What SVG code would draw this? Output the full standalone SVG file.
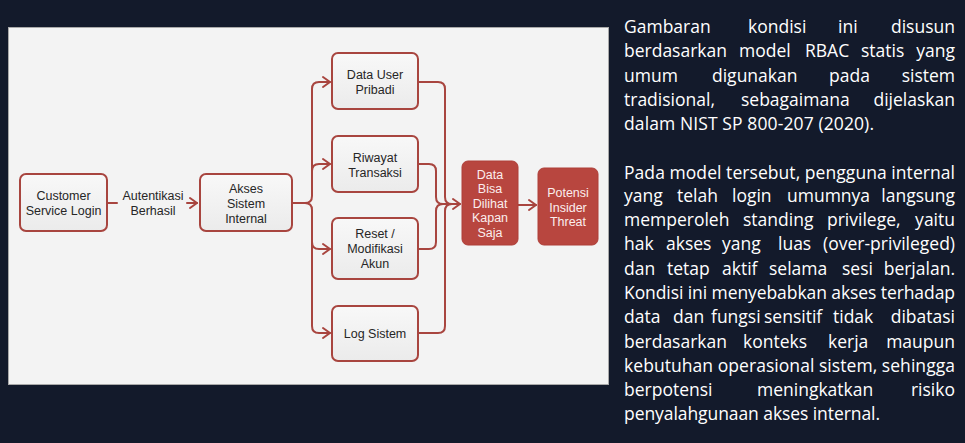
<svg xmlns="http://www.w3.org/2000/svg" width="965" height="443" viewBox="0 0 965 443">
<style>
.node{fill:url(#lg);stroke:#a8453f;stroke-width:2}
.red{fill:#b8463f;stroke:#ae3f39;stroke-width:1}
.nt{font-family:"Liberation Sans",Arial,sans-serif;font-size:12.5px;fill:#262626;text-anchor:middle}
.rt{font-family:"Liberation Sans",Arial,sans-serif;font-size:12.5px;fill:#fbeeee;text-anchor:middle}
.con{fill:none;stroke:#a8453f;stroke-width:2;stroke-linecap:round;stroke-linejoin:round}
.para{font-family:"Open Sans",Lato,sans-serif;font-size:17.5px;fill:#ffffff}
</style>
<defs>
<linearGradient id="lg" x1="0" y1="0" x2="0" y2="1">
<stop offset="0" stop-color="#f8f8f8"/>
<stop offset="1" stop-color="#ebebeb"/>
</linearGradient>
<marker id="ah" markerUnits="userSpaceOnUse" markerWidth="14" markerHeight="14" viewBox="-9 -7 11 14" refX="0" refY="0" orient="auto">
<path d="M-7,-5 L0,0 L-7,5" fill="none" stroke="#a8453f" stroke-width="2" stroke-linecap="round" stroke-linejoin="round"/>
</marker>
</defs>
<rect width="965" height="443" fill="#131a2b"/>
<rect x="8.5" y="27.5" width="600" height="357" fill="#f3f3f3" stroke="#a9a9a9" stroke-width="1"/>

<g id="connectors">
<path class="con" d="M107,203 H117"/>
<path class="con" d="M187,203 H197" marker-end="url(#ah)"/>
<path class="con" d="M292,203 H305 Q312,203 312,196 V89 Q312,82 319,82 H330" marker-end="url(#ah)"/>
<path class="con" d="M305,203 Q312,203 312,210 V326 Q312,333 319,333 H330" marker-end="url(#ah)"/>
<path class="con" d="M312,171 Q312,164 319,164 H330" marker-end="url(#ah)"/>
<path class="con" d="M312,242 Q312,249 319,249 H330" marker-end="url(#ah)"/>
<path class="con" d="M418,82 H438 Q445,82 445,89 V197 Q445,204 452,204"/>
<path class="con" d="M418,333 H438 Q445,333 445,326 V211 Q445,204 452,204"/>
<path class="con" d="M418,164 H429 Q436,164 436,171 V197 Q436,204 443,204"/>
<path class="con" d="M418,249 H429 Q436,249 436,242 V211 Q436,204 443,204"/>
<path class="con" d="M440,204 H460" marker-end="url(#ah)"/>
<path class="con" d="M518,205 H536" marker-end="url(#ah)"/>
</g>

<g id="label-autentikasi">
<text class="nt" x="153" y="200">Autentikasi</text>
<text class="nt" x="153" y="215">Berhasil</text>
</g>

<g id="node-cs-login">
<rect class="node" x="20" y="174" width="87" height="57" rx="6"/>
<text class="nt" x="63.5" y="200">Customer</text>
<text class="nt" x="63.5" y="215">Service Login</text>
</g>
<g id="node-akses">
<rect class="node" x="200" y="174" width="92" height="57" rx="6"/>
<text class="nt" x="246" y="193">Akses</text>
<text class="nt" x="246" y="208">Sistem</text>
<text class="nt" x="246" y="222.5">Internal</text>
</g>
<g id="node-data-user">
<rect class="node" x="332" y="53" width="86" height="56" rx="6"/>
<text class="nt" x="375" y="79">Data User</text>
<text class="nt" x="375" y="93.5">Pribadi</text>
</g>
<g id="node-riwayat">
<rect class="node" x="332" y="136" width="86" height="56" rx="6"/>
<text class="nt" x="375" y="162">Riwayat</text>
<text class="nt" x="375" y="176.5">Transaksi</text>
</g>
<g id="node-reset">
<rect class="node" x="332" y="218" width="86" height="61" rx="6"/>
<text class="nt" x="375" y="238">Reset /</text>
<text class="nt" x="375" y="253">Modifikasi</text>
<text class="nt" x="375" y="268">Akun</text>
</g>
<g id="node-log">
<rect class="node" x="332" y="306" width="86" height="55" rx="6"/>
<text class="nt" x="375" y="338">Log Sistem</text>
</g>
<g id="node-data-bisa">
<rect class="red" x="462" y="161" width="56" height="84" rx="6"/>
<text class="rt" x="490" y="178.5">Data</text>
<text class="rt" x="490" y="193">Bisa</text>
<text class="rt" x="490" y="207.5">Dilihat</text>
<text class="rt" x="490" y="222">Kapan</text>
<text class="rt" x="490" y="236.5">Saja</text>
</g>
<g id="node-potensi">
<rect class="red" x="538" y="168" width="60" height="77" rx="6"/>
<text class="rt" x="568" y="197">Potensi</text>
<text class="rt" x="568" y="211.5">Insider</text>
<text class="rt" x="568" y="226">Threat</text>
</g>

<g id="description" class="para">
<text y="33"><tspan x="624">Gambaran</tspan><tspan x="748">kondisi</tspan><tspan x="838">ini</tspan><tspan x="955" text-anchor="end">disusun</tspan></text>
<text y="57"><tspan x="624">berdasarkan</tspan><tspan x="739">model</tspan><tspan x="805">RBAC</tspan><tspan x="861">statis</tspan><tspan x="955" text-anchor="end">yang</tspan></text>
<text y="82"><tspan x="624">umum</tspan><tspan x="712">digunakan</tspan><tspan x="829">pada</tspan><tspan x="955" text-anchor="end">sistem</tspan></text>
<text y="106"><tspan x="624">tradisional,</tspan><tspan x="741">sebagaimana</tspan><tspan x="955" text-anchor="end">dijelaskan</tspan></text>
<text x="624" y="130" textLength="250" lengthAdjust="spacing">dalam NIST SP 800-207 (2020).</text>
<text x="624" y="179" textLength="331" lengthAdjust="spacing">Pada model tersebut, pengguna internal</text>
<text y="202"><tspan x="624">yang</tspan><tspan x="677">telah</tspan><tspan x="732">login</tspan><tspan x="787">umumnya</tspan><tspan x="955" text-anchor="end">langsung</tspan></text>
<text y="226"><tspan x="624">memperoleh</tspan><tspan x="743">standing</tspan><tspan x="827">privilege,</tspan><tspan x="955" text-anchor="end">yaitu</tspan></text>
<text y="250"><tspan x="624">hak</tspan><tspan x="666">akses</tspan><tspan x="722">yang</tspan><tspan x="778">luas</tspan><tspan x="955" text-anchor="end">(over-privileged)</tspan></text>
<text y="275"><tspan x="624">dan</tspan><tspan x="667">tetap</tspan><tspan x="722">aktif</tspan><tspan x="769">selama</tspan><tspan x="842">sesi</tspan><tspan x="955" text-anchor="end">berjalan.</tspan></text>
<text x="624" y="299" textLength="331" lengthAdjust="spacing">Kondisi ini menyebabkan akses terhadap</text>
<text y="323"><tspan x="624">data</tspan><tspan x="673">dan</tspan><tspan x="711">fungsi</tspan><tspan x="764">sensitif</tspan><tspan x="833">tidak</tspan><tspan x="955" text-anchor="end">dibatasi</tspan></text>
<text y="348"><tspan x="624">berdasarkan</tspan><tspan x="743">konteks</tspan><tspan x="828">kerja</tspan><tspan x="955" text-anchor="end">maupun</tspan></text>
<text x="624" y="372" textLength="331" lengthAdjust="spacing">kebutuhan operasional sistem, sehingga</text>
<text y="396"><tspan x="624">berpotensi</tspan><tspan x="757">meningkatkan</tspan><tspan x="955" text-anchor="end">risiko</tspan></text>
<text x="624" y="420" textLength="256" lengthAdjust="spacing">penyalahgunaan akses internal.</text>
</g>
</svg>
